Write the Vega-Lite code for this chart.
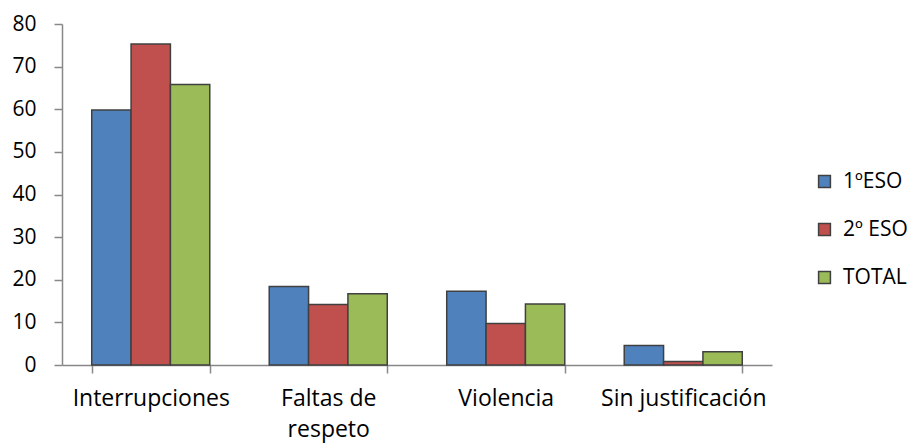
{
  "$schema": "https://vega.github.io/schema/vega-lite/v6.json",
  "width": 710,
  "height": 341,
  "autosize": {"type": "none"},
  "padding": {"left": 62, "top": 24, "right": 137, "bottom": 79},
  "background": "white",
  "data": {
    "values": [
      {"cat": "Interrupciones", "serie": "1ºESO", "v": 59.8},
      {"cat": "Interrupciones", "serie": "2º ESO", "v": 75.3},
      {"cat": "Interrupciones", "serie": "TOTAL", "v": 65.8},
      {"cat": "Faltas de respeto", "serie": "1ºESO", "v": 18.4},
      {"cat": "Faltas de respeto", "serie": "2º ESO", "v": 14.2},
      {"cat": "Faltas de respeto", "serie": "TOTAL", "v": 16.7},
      {"cat": "Violencia", "serie": "1ºESO", "v": 17.3},
      {"cat": "Violencia", "serie": "2º ESO", "v": 9.75},
      {"cat": "Violencia", "serie": "TOTAL", "v": 14.3},
      {"cat": "Sin justificación", "serie": "1ºESO", "v": 4.6},
      {"cat": "Sin justificación", "serie": "2º ESO", "v": 0.8},
      {"cat": "Sin justificación", "serie": "TOTAL", "v": 3.1}
    ]
  },
  "mark": {"type": "bar", "stroke": "#404040", "strokeWidth": 1.5},
  "encoding": {
    "x": {
      "field": "cat",
      "type": "nominal",
      "sort": null,
      "title": null,
      "scale": {"paddingInner": 0.335, "paddingOuter": 0.1675},
      "axis": {
        "labelAngle": 0,
        "labelFont": "Open Sans",
        "labelFontSize": 23,
        "labelColor": "#000000",
        "labelPadding": 14,
        "labelLineHeight": 31,
        "labelExpr": "datum.label == 'Faltas de respeto' ? ['Faltas de', 'respeto'] : datum.label",
        "domainColor": "#888888",
        "domainWidth": 1.5,
        "tickColor": "#888888",
        "tickWidth": 1.5,
        "tickSize": 8,
        "tickBand": "extent",
        "grid": false
      }
    },
    "xOffset": {"field": "serie", "type": "nominal", "sort": null, "scale": {"paddingInner": 0, "paddingOuter": 0}},
    "y": {
      "field": "v",
      "type": "quantitative",
      "title": null,
      "scale": {"domain": [0, 80], "nice": false},
      "axis": {
        "values": [0, 10, 20, 30, 40, 50, 60, 70, 80],
        "labelFont": "Open Sans",
        "labelFontSize": 21,
        "labelColor": "#000000",
        "labelPadding": 18,
        "domainColor": "#888888",
        "domainWidth": 1.5,
        "tickColor": "#888888",
        "tickWidth": 1.5,
        "tickSize": 8,
        "grid": false
      }
    },
    "color": {
      "field": "serie",
      "type": "nominal",
      "sort": null,
      "title": null,
      "scale": {"domain": ["1ºESO", "2º ESO", "TOTAL"], "range": ["#4F81BD", "#C0504D", "#9BBB59"]},
      "legend": {
        "orient": "none",
        "legendX": 752,
        "legendY": 147,
        "symbolType": "square",
        "symbolSize": 140,
        "symbolStrokeColor": "#404040",
        "symbolStrokeWidth": 1.5,
        "labelFont": "Open Sans",
        "labelFontSize": 21,
        "labelColor": "#000000",
        "labelOffset": 8,
        "rowPadding": 26
      }
    }
  },
  "config": {"view": {"stroke": null}}
}
